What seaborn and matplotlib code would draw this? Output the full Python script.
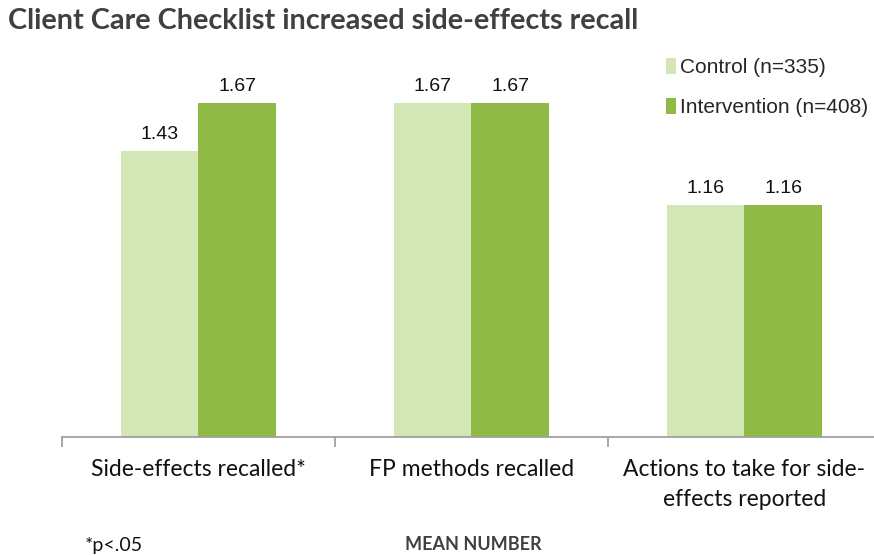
import matplotlib
matplotlib.use("Agg")
import matplotlib.pyplot as plt
import seaborn as sns
import pandas as pd
from matplotlib.patches import Patch

categories = ["Side-effects recalled*", "FP methods recalled", "Actions to take for side-\neffects reported"]
groups = ["Control (n=335)", "Intervention (n=408)"]
control = [1.43, 1.67, 1.16]
intervention = [1.67, 1.67, 1.16]
value_labels = [["1.43", "1.67", "1.16"], ["1.67", "1.67", "1.16"]]
colors = ["#d3e6b5", "#8eba45"]

df = pd.DataFrame({
    "category": categories * 2,
    "group": [groups[0]] * 3 + [groups[1]] * 3,
    "value": control + intervention,
})

sns.set_theme(style="white")
plt.rcParams["font.family"] = ["Liberation Sans", "DejaVu Sans"]

fig = plt.figure(figsize=(8.74, 5.56), dpi=100)
ax = fig.add_axes([62 / 874, (556 - 437) / 556, (881 - 62) / 874, 400 / 556])

sns.barplot(data=df, x="category", y="value", hue="group", palette=colors,
            width=0.565, gap=0, ax=ax, legend=False, saturation=1, edgecolor="none")

ax.set_ylim(0, 2.0)
ax.set_xlim(-0.5, 2.5)
ax.set_ylabel("")
ax.set_xlabel("")
ax.set_yticks([])
for s in ["top", "right", "left"]:
    ax.spines[s].set_visible(False)
ax.spines["bottom"].set_color("#a0a0a0")
ax.spines["bottom"].set_linewidth(1.3)

ax.set_xticks([-0.5, 0.5, 1.5, 2.5])
ax.set_xticklabels([])
ax.tick_params(axis="x", which="major", direction="out", length=7, width=1.3, color="#a0a0a0", bottom=True)
ax.set_xticks([0, 1, 2], minor=True)
ax.set_xticklabels(categories, minor=True, fontsize=16.5, family=["Lato", "DejaVu Sans"],
                   color="#111111", linespacing=1.5, va="top")
ax.tick_params(axis="x", which="minor", length=0, pad=16)

for cont, labs in zip(ax.containers, value_labels):
    ax.bar_label(cont, labels=labs, padding=6, fontsize=14, color="#111111")

handles = [Patch(facecolor=c, edgecolor="none") for c in colors]
fig.legend(handles, groups, loc="upper left", bbox_to_anchor=(666 / 874, 1 - 58 / 556),
           frameon=False, fontsize=15, handlelength=0.5, handleheight=0.8,
           handletextpad=0.15, labelspacing=0.98, borderaxespad=0, borderpad=0)

fig.text(8 / 874, 1 - 21 / 556, "Client Care Checklist increased side-effects recall",
         fontsize=20.7, fontweight="bold", color="#404040", family=["Lato", "DejaVu Sans"],
         va="center", ha="left")
fig.text(85 / 874, 1 - 545 / 556, "*p<.05", fontsize=14, color="#111111",
         family=["Lato", "DejaVu Sans"], va="center", ha="left")
fig.text(473 / 874, 1 - 545 / 556, "MEAN NUMBER", fontsize=13, fontweight="bold",
         color="#404040", family=["Lato", "DejaVu Sans"], va="center", ha="center")

fig.savefig("out.png", dpi=100)
